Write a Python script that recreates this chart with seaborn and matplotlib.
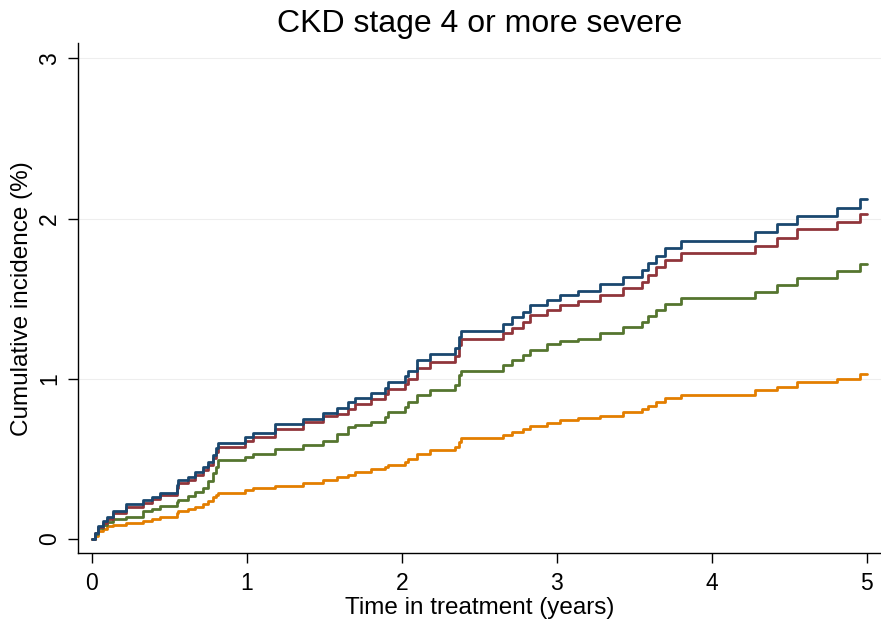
import numpy as np
import pandas as pd
import seaborn as sns
import matplotlib.pyplot as plt

# event times (years) and cumulative incidence (%) per group
time = [0, 0.02, 0.04, 0.07, 0.095, 0.137, 0.22, 0.33, 0.385, 0.44,
        0.547, 0.557, 0.62, 0.665, 0.72, 0.75, 0.78, 0.80, 0.815, 0.99,
        1.04, 1.18, 1.36, 1.49, 1.58, 1.65, 1.70, 1.80, 1.89, 1.91,
        2.02, 2.04, 2.10, 2.18, 2.345, 2.37, 2.38, 2.65, 2.71, 2.78,
        2.83, 2.94, 3.02, 3.14, 3.28, 3.43, 3.55, 3.59, 3.64, 3.70,
        3.80, 4.28, 4.42, 4.55, 4.81, 4.96, 5.0]

blue = [0, 0.04, 0.083, 0.11, 0.137, 0.175, 0.218, 0.243, 0.264, 0.289,
        0.337, 0.368, 0.389, 0.42, 0.45, 0.48, 0.524, 0.567, 0.60, 0.638,
        0.663, 0.717, 0.75, 0.785, 0.82, 0.855, 0.88, 0.91, 0.94, 0.98,
        1.017, 1.05, 1.117, 1.154, 1.19, 1.26, 1.30, 1.34, 1.385, 1.42,
        1.46, 1.49, 1.52, 1.55, 1.59, 1.636, 1.678, 1.72, 1.765, 1.815,
        1.86, 1.915, 1.965, 2.015, 2.067, 2.12, 2.12]

red = [0, 0.035, 0.075, 0.10, 0.125, 0.16, 0.20, 0.228, 0.25, 0.275,
       0.32, 0.35, 0.37, 0.40, 0.43, 0.46, 0.505, 0.545, 0.576, 0.611,
       0.64, 0.69, 0.73, 0.765, 0.78, 0.81, 0.84, 0.873, 0.905, 0.935,
       0.967, 1.0, 1.07, 1.106, 1.14, 1.21, 1.247, 1.285, 1.32, 1.356,
       1.397, 1.43, 1.46, 1.485, 1.52, 1.566, 1.605, 1.647, 1.697, 1.74,
       1.784, 1.828, 1.877, 1.934, 1.98, 2.03, 2.03]

green = [0, 0.03, 0.07, 0.09, 0.108, 0.125, 0.14, 0.175, 0.19, 0.206,
         0.23, 0.243, 0.27, 0.295, 0.32, 0.36, 0.41, 0.45, 0.493, 0.514,
         0.53, 0.56, 0.586, 0.615, 0.655, 0.70, 0.71, 0.73, 0.763, 0.795,
         0.825, 0.856, 0.898, 0.93, 0.96, 1.023, 1.05, 1.085, 1.117, 1.148,
         1.18, 1.22, 1.235, 1.25, 1.285, 1.325, 1.356, 1.393, 1.43, 1.47,
         1.505, 1.543, 1.585, 1.63, 1.674, 1.715, 1.715]

orange = [0, 0.02, 0.05, 0.065, 0.08, 0.09, 0.10, 0.115, 0.125, 0.14,
          0.16, 0.175, 0.19, 0.20, 0.22, 0.24, 0.26, 0.275, 0.286, 0.305,
          0.32, 0.33, 0.35, 0.368, 0.385, 0.40, 0.42, 0.437, 0.45, 0.46,
          0.482, 0.50, 0.53, 0.555, 0.576, 0.607, 0.632, 0.65, 0.67, 0.686,
          0.705, 0.725, 0.74, 0.755, 0.77, 0.79, 0.81, 0.83, 0.855, 0.88,
          0.90, 0.93, 0.95, 0.98, 1.00, 1.03, 1.03]

groups = ["g1", "g2", "g3", "g4"]
colors = ["#1a476f", "#90353b", "#55752f", "#e37e00"]

df = pd.concat([pd.DataFrame({"t": time, "ci": v, "grp": g})
                for g, v in zip(groups, [blue, red, green, orange])])

sns.set_style("white")
plt.rcParams['font.family'] = ['Liberation Sans', 'DejaVu Sans']
plt.rcParams['text.color'] = 'black'
plt.rcParams['axes.labelcolor'] = 'black'
plt.rcParams['xtick.color'] = 'black'
plt.rcParams['ytick.color'] = 'black'

fig = plt.figure(figsize=(8.81, 6.27), dpi=100)
ax = fig.add_axes([0.0885, 0.118, 0.911, 0.813])

for ygrid in [1, 2, 3]:
    ax.axhline(ygrid, color="#eeeeee", lw=0.8, zorder=0)

sns.lineplot(data=df, x="t", y="ci", hue="grp", hue_order=groups[::-1],
             palette=dict(zip(groups, colors)), estimator=None,
             drawstyle="steps-post", lw=2, legend=False, ax=ax)

ax.set_xlim(-0.09, 5.09)
ax.set_ylim(-0.087, 3.094)
ax.set_xticks([0, 1, 2, 3, 4, 5])
ax.set_yticks([0, 1, 2, 3])
ax.tick_params(axis="both", direction="out", length=7, width=1, color="black",
               labelsize=16.5, left=True, bottom=True)
ax.tick_params(axis="x", pad=7)
ax.tick_params(axis="y", pad=5)
plt.setp(ax.get_yticklabels(), rotation=90, va="center")
for s in ["top", "right"]:
    ax.spines[s].set_visible(False)
for s in ["left", "bottom"]:
    ax.spines[s].set_color("black")
    ax.spines[s].set_linewidth(1)

ax.set_xlabel("Time in treatment (years)", fontsize=17.5, labelpad=1)
ax.set_ylabel("Cumulative incidence (%)", fontsize=17.5, labelpad=4)
ax.set_title("CKD stage 4 or more severe", fontsize=23, pad=8)

fig.savefig("out.png", dpi=100)
